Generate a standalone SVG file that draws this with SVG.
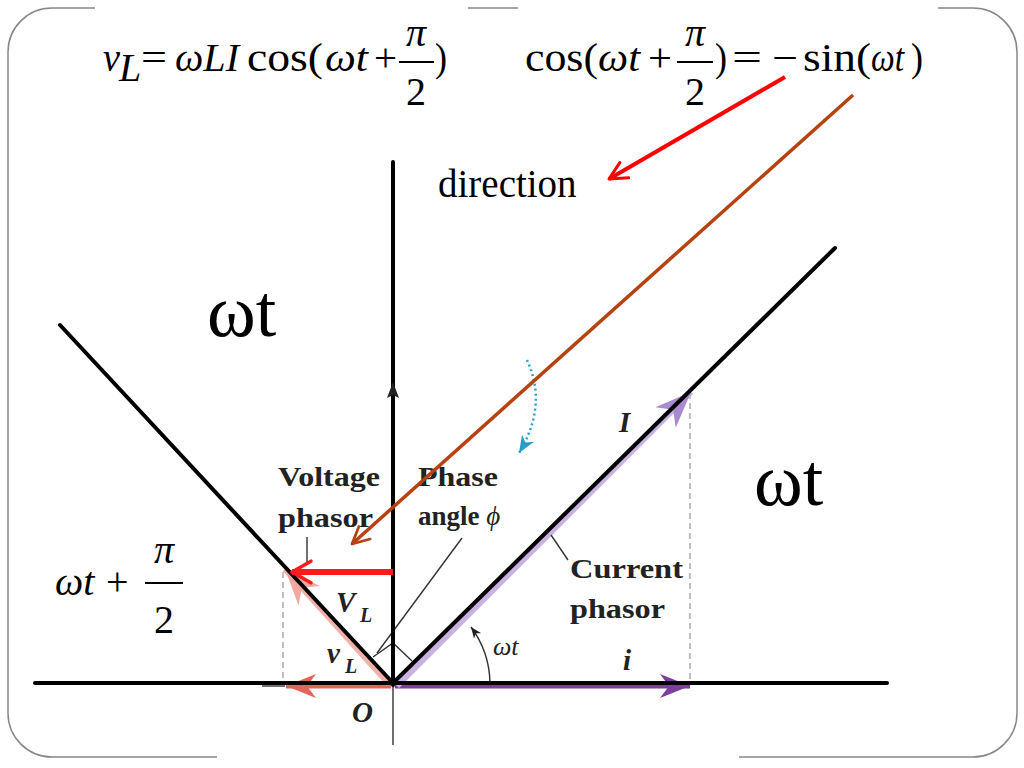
<svg xmlns="http://www.w3.org/2000/svg" width="1024" height="768" viewBox="0 0 1024 768">
<style>
.eq{font-family:"Liberation Serif","Times New Roman",serif;font-size:40px;fill:#000}
.i{font-style:italic}
.big{font-family:"Liberation Serif","Times New Roman",serif;font-size:74px;fill:#000}
.lbl{font-family:"Liberation Serif","Times New Roman",serif;font-size:27px;font-weight:bold;fill:#222}
.bi{font-family:"Liberation Serif","Times New Roman",serif;font-size:29px;font-weight:bold;font-style:italic;fill:#222}
.sub{font-size:20px}
.thick{stroke:#000;stroke-width:4;fill:none;stroke-linecap:round}
.thin{stroke:#333;stroke-width:1.4;fill:none}
.dash{stroke:#aaa;stroke-width:1.5;stroke-dasharray:6 4;fill:none}
.bar{stroke:#000;stroke-width:2}
</style>
<defs>
<marker id="redHead" viewBox="0 0 10 10" refX="9" refY="5" markerWidth="4.5" markerHeight="4.5" orient="auto" markerUnits="strokeWidth">
<path d="M2,1 L9,5 L2,9" fill="none" stroke="#ff1a1a" stroke-width="1.3" stroke-linecap="round" stroke-linejoin="round"/>
</marker>
<marker id="brownHead" viewBox="0 0 10 10" refX="9" refY="5" markerWidth="6" markerHeight="6" orient="auto" markerUnits="strokeWidth">
<path d="M1,1 L9,5 L1,9" fill="none" stroke="#b5420f" stroke-width="1.3" stroke-linecap="round" stroke-linejoin="round"/>
</marker>
<marker id="redArrow" viewBox="0 0 10 10" refX="9" refY="5" markerWidth="5.5" markerHeight="5.5" orient="auto" markerUnits="strokeWidth">
<path d="M1,1 L9,5 L1,9" fill="none" stroke="#ff0000" stroke-width="1.4" stroke-linecap="round" stroke-linejoin="round"/>
</marker>
<marker id="purpHead" viewBox="0 0 10 10" refX="10" refY="5" markerWidth="6" markerHeight="6" orient="auto" markerUnits="strokeWidth">
<path d="M0,1 L10,5 L0,9 L3,5 Z" fill="#7b3f9e"/>
</marker>
<marker id="lpurpHead" viewBox="0 0 10 10" refX="10" refY="5" markerWidth="6" markerHeight="6" orient="auto" markerUnits="strokeWidth">
<path d="M0,1 L10,5 L0,9 L3,5 Z" fill="#a88ad0"/>
</marker>
<marker id="salmonHead" viewBox="0 0 10 10" refX="10" refY="5" markerWidth="6" markerHeight="6" orient="auto" markerUnits="strokeWidth">
<path d="M0,1 L10,5 L0,9 L3,5 Z" fill="#e0665a"/>
</marker>
<marker id="lsalmonHead" viewBox="0 0 10 10" refX="10" refY="5" markerWidth="6" markerHeight="6" orient="auto" markerUnits="strokeWidth">
<path d="M0,1 L10,5 L0,9 L3,5 Z" fill="#f0a8a0"/>
</marker>
<marker id="blackHead" viewBox="0 0 10 10" refX="10" refY="5" markerWidth="8" markerHeight="8" orient="auto" markerUnits="strokeWidth">
<path d="M0,1 L10,5 L0,9 L3,5 Z" fill="#222"/>
</marker>
<marker id="cyanHead" viewBox="0 0 10 10" refX="10" refY="5" markerWidth="7" markerHeight="7" orient="auto" markerUnits="strokeWidth">
<path d="M0,1 L10,5 L0,9 L3,5 Z" fill="#2a9fc4"/>
</marker>
</defs>

<g id="frame" fill="none" stroke="#888" stroke-width="1.5">
<path d="M95 8 H52 A44 44 0 0 0 8 52 V713 A44 44 0 0 0 52 757 H217"/>
<path d="M739 757 H973 A44 44 0 0 0 1017 713 V52 A44 44 0 0 0 973 8 H938"/>
<path d="M468 8 H518"/>
</g>

<g id="formula-vl">
<text class="eq i" x="103" y="71" textLength="17" lengthAdjust="spacingAndGlyphs">v</text>
<text class="eq i" x="119" y="81" font-size="24">L</text>
<text class="eq" x="141" y="71" textLength="26" lengthAdjust="spacingAndGlyphs">=</text>
<text class="eq i" x="175" y="71" textLength="64" lengthAdjust="spacingAndGlyphs">ωLI</text>
<text class="eq" x="247" y="71" textLength="76" lengthAdjust="spacingAndGlyphs">cos(</text>
<text class="eq i" x="325" y="71" textLength="43" lengthAdjust="spacingAndGlyphs">ωt</text>
<text class="eq" x="374" y="71" textLength="23" lengthAdjust="spacingAndGlyphs">+</text>
<text class="eq i" x="416" y="46" text-anchor="middle">π</text>
<line class="bar" x1="399" y1="62" x2="434" y2="62"/>
<text class="eq" x="416" y="105" text-anchor="middle">2</text>
<text class="eq" x="435" y="71" textLength="12" lengthAdjust="spacingAndGlyphs">)</text>
</g>

<g id="formula-identity">
<text class="eq" x="525" y="71" textLength="73" lengthAdjust="spacingAndGlyphs">cos(</text>
<text class="eq i" x="598" y="71" textLength="42" lengthAdjust="spacingAndGlyphs">ωt</text>
<text class="eq" x="648" y="71" textLength="24" lengthAdjust="spacingAndGlyphs">+</text>
<text class="eq i" x="695" y="46" text-anchor="middle">π</text>
<line class="bar" x1="677" y1="62" x2="713" y2="62"/>
<text class="eq" x="695" y="105" text-anchor="middle">2</text>
<text class="eq" x="715" y="71" textLength="12" lengthAdjust="spacingAndGlyphs">)</text>
<text class="eq" x="732" y="71" textLength="30" lengthAdjust="spacingAndGlyphs">=</text>
<text class="eq" x="772" y="71" textLength="26" lengthAdjust="spacingAndGlyphs">−</text>
<text class="eq" x="803" y="71" textLength="68" lengthAdjust="spacingAndGlyphs">sin(</text>
<text class="eq i" x="871" y="71" textLength="33" lengthAdjust="spacingAndGlyphs">ωt</text>
<text class="eq" x="911" y="71" textLength="12" lengthAdjust="spacingAndGlyphs">)</text>
</g>

<g id="direction-label">
<text x="438" y="197" font-family="Liberation Serif, Times New Roman, serif" font-size="39">direction</text>
</g>

<g id="omega-left"><text class="big" x="207" y="336">ωt</text></g>
<g id="omega-right"><text class="big" x="754" y="505">ωt</text></g>

<g id="formula-left">
<text class="eq i" x="55" y="595" font-size="44">ωt</text>
<text class="eq" x="106" y="595" font-size="44">+</text>
<text class="eq i" x="164" y="563" font-size="44" text-anchor="middle">π</text>
<line class="bar" x1="145" y1="583" x2="183" y2="583"/>
<text class="eq" x="164" y="633" font-size="44" text-anchor="middle">2</text>
</g>

<g id="phasor-figure">
<line class="dash" x1="690" y1="393" x2="690" y2="683"/>
<line class="dash" x1="283" y1="572" x2="283" y2="683"/>
<line class="thin" x1="262" y1="686" x2="285" y2="686"/>
<line class="thin" x1="690" y1="684" x2="733" y2="684"/>
<line class="thin" x1="393" y1="683" x2="393" y2="745"/>
<line x1="395" y1="686" x2="690" y2="686" stroke="#7b3f9e" stroke-width="5" marker-end="url(#purpHead)"/>
<line x1="391" y1="686" x2="286" y2="686" stroke="#e0665a" stroke-width="5" marker-end="url(#salmonHead)"/>
<line x1="397" y1="686" x2="691" y2="392" stroke="#c8b2e2" stroke-width="6" marker-end="url(#lpurpHead)"/>
<line x1="389" y1="684" x2="285" y2="569" stroke="#f2b0a8" stroke-width="6" marker-end="url(#lsalmonHead)"/>
<path class="thin" d="M373 657 L393 643 L412 661"/>
<line class="thin" x1="462" y1="538" x2="377" y2="653"/>
<line class="thin" x1="551" y1="535" x2="568" y2="560"/>
<line class="thin" x1="307" y1="537" x2="307" y2="562"/>
<path class="thin" d="M490 683 A97 97 0 0 0 471 627" marker-end="url(#blackHead)"/>
<path d="M527 360 Q548 405 519 453" fill="none" stroke="#2a9fc4" stroke-width="2.5" stroke-dasharray="2 3" marker-end="url(#cyanHead)"/>
<text class="lbl" x="278" y="486" textLength="102" lengthAdjust="spacingAndGlyphs">Voltage</text>
<text class="lbl" x="278" y="527" textLength="95" lengthAdjust="spacingAndGlyphs">phasor</text>
<text class="lbl" x="418" y="486" textLength="80" lengthAdjust="spacingAndGlyphs">Phase</text>
<text class="lbl" x="418" y="525">angle <tspan font-style="italic" font-weight="normal">ϕ</tspan></text>
<text class="lbl" x="570" y="578" textLength="113" lengthAdjust="spacingAndGlyphs">Current</text>
<text class="lbl" x="570" y="618" textLength="95" lengthAdjust="spacingAndGlyphs">phasor</text>
<text class="bi" x="619" y="432">I</text>
<text class="bi" x="336" y="612">V<tspan class="sub" x="360" y="622">L</tspan></text>
<text class="bi" x="327" y="663">v<tspan class="sub" x="345" y="673">L</tspan></text>
<text x="493" y="655" font-family="Liberation Serif, Times New Roman, serif" font-size="26" font-style="italic" fill="#222">ωt</text>
<text class="bi" x="623" y="670">i</text>
<text class="bi" x="352" y="722">O</text>
</g>

<g id="axes">
<line class="thick" x1="393" y1="162" x2="393" y2="685"/>
<line class="thick" x1="35" y1="683" x2="887" y2="683"/>
<line class="thick" x1="60" y1="325" x2="393" y2="683"/>
<line class="thick" x1="393" y1="683" x2="835" y2="248"/>
<path d="M393 382 L399 398 L393 395 L387 398 Z" fill="#222"/>
</g>

<g id="connectors">
<line x1="785" y1="77" x2="609" y2="179" stroke="#ff0000" stroke-width="4" marker-end="url(#redArrow)"/>
<line x1="853" y1="95" x2="352" y2="544" stroke="#b5420f" stroke-width="3.5" marker-end="url(#brownHead)"/>
<line x1="393" y1="572" x2="292" y2="572" stroke="#ff1a1a" stroke-width="6" marker-end="url(#redHead)"/>
</g>
</svg>
